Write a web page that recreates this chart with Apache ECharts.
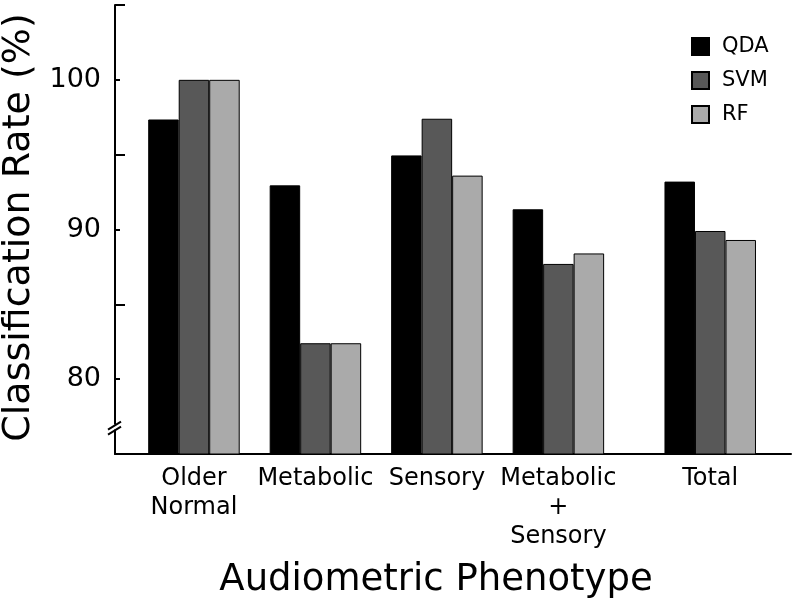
<!DOCTYPE html>
<html><head><meta charset="utf-8">
<script src="https://cdn.jsdelivr.net/npm/echarts@6/dist/echarts.min.js"></script>
<style>html,body{margin:0;padding:0;background:#fff}#c{width:793px;height:611px}</style>
</head><body><div id="c"></div>
<script>
const categories = ['Older\nNormal', 'Metabolic', 'Sensory', 'Metabolic\n+\nSensory', 'Total'];
const groupPositions = [1, 2, 3, 4, 5.25];
const seriesNames = ['QDA', 'SVM', 'RF'];
const qdaValues = [97.35, 92.95, 94.95, 91.35, 93.2];
const svmValues = [100, 82.4, 97.4, 87.7, 89.9];
const rfValues = [100, 82.4, 93.6, 88.4, 89.3];
const yLabelTicks = [80, 90, 100];

const FONT = 'DejaVu Sans';
const colors = ['#000000', '#585858', '#aaaaaa'];
const allValues = [qdaValues, svmValues, rfValues];

const chart = echarts.init(document.getElementById('c'), null, {renderer: 'canvas'});
const xMin = 0.35, xMax = 5.915;

const option = {
  animation: false,
  backgroundColor: '#fff',
  grid: {left: 115, right: 2, top: 5, bottom: 157, containLabel: false, outerBoundsMode: 'none'},
  legend: {
    orient: 'vertical', left: 686, top: 31,
    itemWidth: 17, itemHeight: 17, itemGap: 13,
    icon: 'rect',
    textStyle: {fontFamily: FONT, fontSize: 21, color: '#000', padding: [0, 0, 0, 8]},
    data: seriesNames
  },
  xAxis: {
    type: 'value', min: xMin, max: xMax,
    splitLine: {show: false},
    axisLine: {show: true, lineStyle: {color: '#000', width: 2}},
    axisTick: {show: false},
    axisLabel: {
      customValues: groupPositions,
      formatter: v => { const i = groupPositions.indexOf(v); return i >= 0 ? categories[i] : ''; },
      fontFamily: FONT, fontSize: 24, color: '#000', lineHeight: 29, margin: 10, align: 'center'
    },
    name: 'Audiometric Phenotype', nameLocation: 'middle', nameGap: 108,
    nameTextStyle: {fontFamily: FONT, fontSize: 37, color: '#000', padding: [0, 34, 0, 0]}
  },
  yAxis: [{
    type: 'value', min: 75, max: 105, interval: 5,
    splitLine: {show: false},
    axisLine: {show: true, lineStyle: {color: '#000', width: 2}},
    axisTick: {show: true, inside: true, length: 5, lineStyle: {color: '#000', width: 2}},
    axisLabel: {
      formatter: v => yLabelTicks.includes(v) ? String(v) : '',
      fontFamily: FONT, fontSize: 27, color: '#000', margin: 14
    },
    name: 'Classification Rate (%)', nameLocation: 'middle', nameGap: 70, nameRotate: 90,
    nameTextStyle: {fontFamily: FONT, fontSize: 38, color: '#000', padding: [0, 0, 0, 4]}
  }, {
    type: 'value', min: 75, max: 105, interval: 10, position: 'left', offset: 0,
    splitLine: {show: false},
    axisLine: {show: false},
    axisTick: {show: true, inside: true, length: 10, lineStyle: {color: '#000', width: 2}},
    axisLabel: {show: false}
  }],
  series: seriesNames.map((name, si) => ({
    name, type: 'bar', yAxisIndex: 0,
    barWidth: 30.5, barGap: '0%',
    itemStyle: {color: colors[si], borderColor: '#000', borderWidth: 1},
    data: groupPositions.map((x, i) => [x, allValues[si][i]])
  }))
};
chart.setOption(option);

// axis break marker on the y axis
const p = chart.convertToPixel({xAxisIndex: 0, yAxisIndex: 0}, [xMin, 76.7]);
const bx = p[0], by = p[1];
chart.setOption({
  graphic: [
    {type: 'rect', shape: {x: bx - 3, y: by - 4, width: 6, height: 5}, style: {fill: '#fff'}, z: 100},
    {type: 'line', shape: {x1: bx - 7, y1: by + 1, x2: bx + 6, y2: by - 7}, style: {stroke: '#000', lineWidth: 2}, z: 101},
    {type: 'line', shape: {x1: bx - 7, y1: by + 6, x2: bx + 6, y2: by - 2}, style: {stroke: '#000', lineWidth: 2}, z: 101}
  ]
});
</script>
</body></html>
